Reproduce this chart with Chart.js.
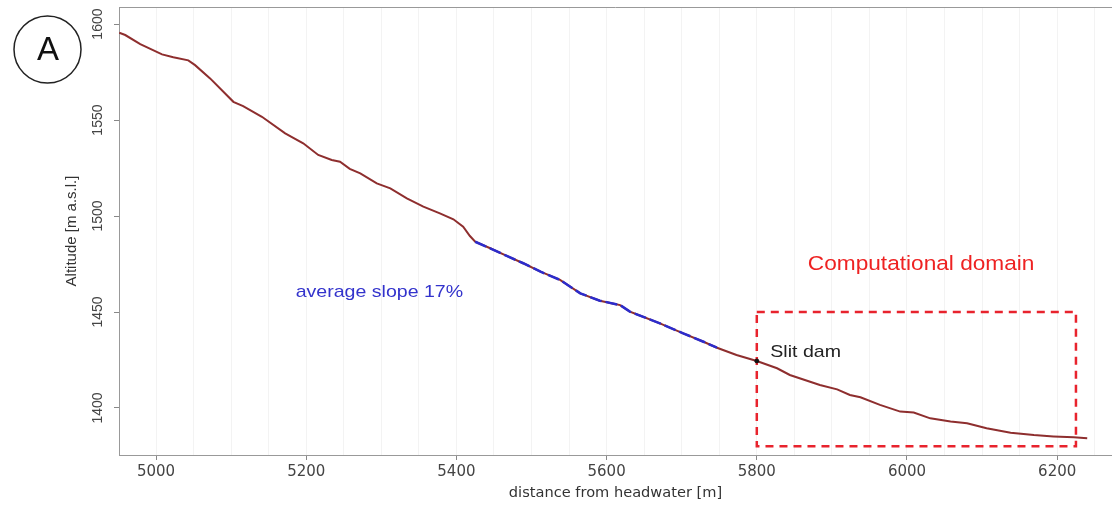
<!DOCTYPE html>
<html>
<head>
<meta charset="utf-8">
<script src="https://cdn.jsdelivr.net/npm/chart.js@4/dist/chart.umd.min.js"></script>
<style>
  html, body { margin: 0; padding: 0; background: #ffffff; }
  #wrap { width: 1112px; height: 507px; position: relative; }
</style>
</head>
<body>
<div id="wrap"><canvas id="c" width="1112" height="507"></canvas></div>
<script>
// ---- data ----
const distance = [4951, 4959, 4979, 5008, 5023, 5043, 5052, 5072, 5103, 5116, 5141, 5172, 5196, 5216, 5234, 5245, 5258, 5272, 5294, 5312, 5334, 5356, 5378, 5396, 5409, 5418, 5425, 5445, 5467, 5489, 5512, 5538, 5565, 5591, 5611, 5618, 5631, 5640, 5671, 5702, 5729, 5747, 5773, 5800, 5827, 5844, 5871, 5884, 5907, 5924, 5938, 5964, 5991, 6009, 6031, 6058, 6080, 6106, 6138, 6169, 6195, 6222, 6240];
const altitude = [1595.5, 1594.3, 1589.6, 1584.2, 1582.7, 1581.1, 1578.6, 1571.7, 1559.5, 1557.3, 1551.7, 1543.1, 1537.9, 1531.8, 1529.2, 1528.3, 1524.6, 1522.2, 1517.0, 1514.4, 1509.2, 1504.9, 1501.4, 1498.3, 1494.4, 1489.6, 1486.6, 1483.2, 1479.2, 1475.4, 1471.0, 1466.7, 1459.7, 1455.9, 1454.2, 1453.6, 1450.2, 1448.8, 1444.1, 1438.9, 1434.5, 1431.4, 1427.6, 1424.5, 1420.7, 1417.2, 1413.7, 1412.0, 1409.7, 1406.8, 1405.6, 1401.6, 1398.1, 1397.6, 1394.6, 1392.9, 1392.0, 1389.4, 1387.1, 1385.9, 1385.2, 1384.7, 1384.2];

// stretch of the profile highlighted in blue (average slope 17%)
const slopeFrom = 5425;
const slopeTo = 5747;

const domainX = [5800, 6225, 6225, 5800, 5800];
const domainY = [1450, 1450, 1380, 1380, 1450];

const damX = [5800];
const damY = [1424.5];

const xTicks = [5000, 5200, 5400, 5600, 5800, 6000, 6200];
const yTicks = [1400, 1450, 1500, 1550, 1600];

const xRange = [4950.7, 6273];
const yRange = [1375.5, 1608.9];

const annotations = [
  { text: 'Computational domain', x: 5868, y: 1474.5, color: '#ee2222', size: 19.7 },
  { text: 'average slope 17%', x: 5186, y: 1460, color: '#3333cc', size: 17 },
  { text: 'Slit dam', x: 5818, y: 1429, color: '#222222', size: 17 }
];
const panelLetter = 'A';

const toPts = (xs, ys) => xs.map((x, i) => ({ x: x, y: ys[i] }));
const profilePts = toPts(distance, altitude);
const slopePts = profilePts.filter(p => p.x >= slopeFrom && p.x <= slopeTo);

const HFONT = 'DejaVu Sans';
const STRETCH = 1.15;

const extras = {
  id: 'extras',
  afterDraw(chart) {
    const { ctx, chartArea, scales } = chart;
    ctx.save();
    // top frame line
    ctx.strokeStyle = '#999999';
    ctx.lineWidth = 1;
    ctx.beginPath();
    ctx.moveTo(chartArea.left, chartArea.top + 0.5);
    ctx.lineTo(chartArea.right, chartArea.top + 0.5);
    ctx.stroke();
    // text annotations (source picture is stretched horizontally)
    ctx.textBaseline = 'middle';
    ctx.textAlign = 'left';
    annotations.forEach(a => {
      const px = scales.x.getPixelForValue(a.x);
      const py = scales.y.getPixelForValue(a.y);
      ctx.save();
      ctx.translate(px, py);
      ctx.scale(STRETCH, 1);
      ctx.font = a.size + 'px "Liberation Sans"';
      ctx.fillStyle = a.color;
      ctx.fillText(a.text, 0, 0);
      ctx.restore();
    });
    // panel letter in circle
    ctx.strokeStyle = '#222222';
    ctx.lineWidth = 1.5;
    ctx.beginPath();
    ctx.arc(47.5, 49.5, 33.5, 0, Math.PI * 2);
    ctx.stroke();
    ctx.fillStyle = '#111111';
    ctx.textAlign = 'center';
    ctx.font = '33px "Liberation Sans"';
    ctx.fillText(panelLetter, 48, 51);
    ctx.restore();
  }
};

new Chart(document.getElementById('c'), {
  type: 'scatter',
  data: {
    datasets: [
      {
        label: 'domain',
        data: toPts(domainX, domainY),
        showLine: true,
        borderColor: '#e8232d',
        borderWidth: 2.5,
        borderDash: [8, 6],
        pointRadius: 0,
        fill: false,
        order: 3
      },
      {
        label: 'profile',
        data: profilePts,
        showLine: true,
        borderColor: '#8e2e2e',
        borderWidth: 2,
        pointRadius: 0,
        tension: 0,
        order: 2
      },
      {
        label: 'slope',
        data: slopePts,
        showLine: true,
        borderColor: '#2c2ccc',
        borderWidth: 2.5,
        borderDash: [12, 4],
        pointRadius: 0,
        order: 1
      },
      {
        label: 'dam',
        data: toPts(damX, damY),
        showLine: false,
        pointRadius: 2,
        pointHoverRadius: 2,
        pointBackgroundColor: '#111111',
        pointBorderColor: '#111111',
        order: 0
      }
    ]
  },
  options: {
    responsive: false,
    animation: false,
    events: [],
    layout: { autoPadding: false, padding: { top: 7, left: 0, right: 0, bottom: 0 } },
    plugins: { legend: { display: false }, tooltip: { enabled: false } },
    scales: {
      x: {
        type: 'linear',
        min: xRange[0],
        max: xRange[1],
        afterFit(s) { s.height = 52; s.paddingLeft = 0; s.paddingRight = 0; },
        ticks: {
          stepSize: 50,
          includeBounds: false,
          autoSkip: false,
          maxRotation: 0,
          minRotation: 0,
          padding: 3,
          color: '#444444',
          font: { family: HFONT, size: 15 },
          callback: v => (xTicks.includes(v) ? String(v) : '')
        },
        grid: {
          color: '#f3f3f3',
          lineWidth: 1,
          drawTicks: true,
          tickLength: 5,
          tickColor: c => (c.tick && xTicks.includes(c.tick.value) ? '#888888' : 'rgba(0,0,0,0)')
        },
        border: { display: true, color: '#999999', width: 1 },
        title: {
          display: true,
          text: 'distance from headwater [m]',
          color: '#333333',
          font: { family: HFONT, size: 14.6 },
          padding: { top: 0, bottom: 5 }
        }
      },
      y: {
        type: 'linear',
        min: yRange[0],
        max: yRange[1],
        afterFit(s) { s.width = 119; s.paddingTop = 0; s.paddingBottom = 0; },
        afterBuildTicks(s) { s.ticks = yTicks.map(v => ({ value: v })); },
        ticks: {
          minRotation: 90,
          maxRotation: 90,
          crossAlign: 'center',
          padding: 0,
          color: '#444444',
          font: { family: 'Liberation Sans', size: 14 },
          callback: v => String(v)
        },
        grid: {
          display: true,
          drawOnChartArea: false,
          drawTicks: true,
          tickLength: 5,
          tickColor: '#888888'
        },
        border: { display: true, color: '#999999', width: 1 },
        title: {
          display: true,
          text: 'Altitude [m a.s.l.]',
          color: '#333333',
          font: { family: 'Liberation Sans', size: 15 },
          padding: { top: 63, bottom: 0 }
        }
      }
    }
  },
  plugins: [extras]
});
</script>
</body>
</html>
